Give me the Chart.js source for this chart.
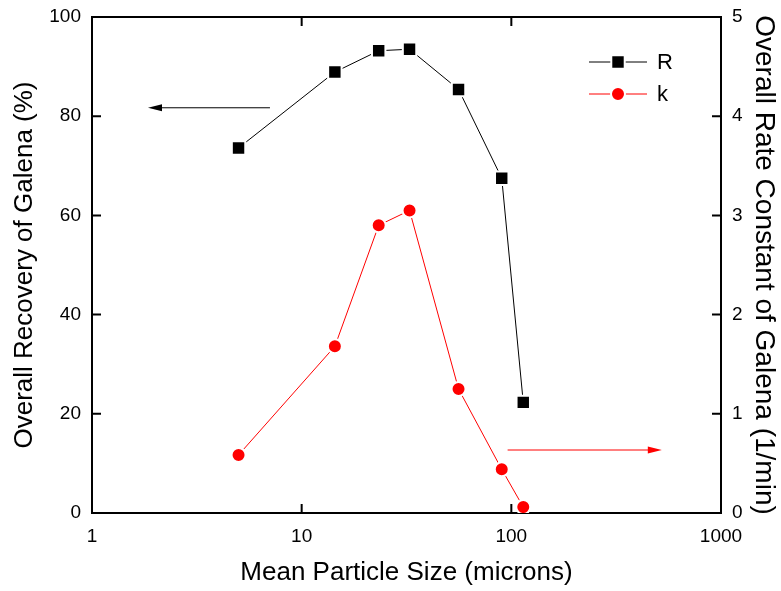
<!DOCTYPE html>
<html>
<head>
<meta charset="utf-8">
<title>Galena</title>
<script src="https://cdn.jsdelivr.net/npm/chart.js@4/dist/chart.umd.min.js"></script>
<style>
  body { margin: 0; background: #fff; }
  canvas { display: block; }
</style>
</head>
<body>
<canvas id="grafico" width="781" height="591"></canvas>
<script>
// Dados: tamanho médio da partícula, recuperação (%) e constante de taxa k (1/min)
const tamanhos = [5, 14.4, 23.3, 32.7, 56, 90, 114];
const recuperacao = [73.6, 88.9, 93.2, 93.5, 85.4, 67.5, 22.3];
const constanteK = [0.585, 1.68, 2.90, 3.05, 1.25, 0.44, 0.06];

const ticksX = [1, 10, 100, 1000];
const ticksY = [0, 20, 40, 60, 80, 100];
const ticksK = [0, 1, 2, 3, 4, 5];

// Setas que apontam para o eixo de cada série: [x inicial, x final, y]
const setaR = [7.06, 1.85, 81.7];
const setaK = [96, 522, 0.635];

const fonte = '"Liberation Sans", Arial, sans-serif';
const vermelho = '#ff0000';

function desenharSeta(ctx, x0, x1, y, cor) {
    const dir = x1 > x0 ? 1 : -1;
    ctx.strokeStyle = cor;
    ctx.fillStyle = cor;
    ctx.lineWidth = 1;
    ctx.beginPath();
    ctx.moveTo(x0, y);
    ctx.lineTo(x1 - dir * 12, y);
    ctx.stroke();
    ctx.beginPath();
    ctx.moveTo(x1, y);
    ctx.lineTo(x1 - dir * 14, y - 3.5);
    ctx.lineTo(x1 - dir * 14, y + 3.5);
    ctx.closePath();
    ctx.fill();
}

// Moldura com ticks para dentro, nos quatro lados
const molduraPlugin = {
    id: 'moldura',
    beforeDatasetsDraw(chart) {
        const { ctx, chartArea: a, scales } = chart;
        const tam = 9;
        ctx.save();
        ctx.strokeStyle = '#000';
        ctx.lineWidth = 2;
        ctx.strokeRect(a.left, a.top, a.right - a.left, a.bottom - a.top);
        ctx.beginPath();
        ticksX.forEach(v => {
            const px = scales.x.getPixelForValue(v);
            ctx.moveTo(px, a.bottom);
            ctx.lineTo(px, a.bottom - tam);
            ctx.moveTo(px, a.top);
            ctx.lineTo(px, a.top + tam);
        });
        ticksY.forEach(v => {
            const py = scales.y.getPixelForValue(v);
            ctx.moveTo(a.left, py);
            ctx.lineTo(a.left + tam, py);
        });
        ticksK.forEach(v => {
            const py = scales.yK.getPixelForValue(v);
            ctx.moveTo(a.right, py);
            ctx.lineTo(a.right - tam, py);
        });
        ctx.stroke();
        ctx.restore();
    },
    afterDatasetsDraw(chart) {
        const { ctx, chartArea: a, scales } = chart;
        ctx.save();
        desenharSeta(ctx, scales.x.getPixelForValue(setaR[0]), scales.x.getPixelForValue(setaR[1]),
            scales.y.getPixelForValue(setaR[2]), '#000');
        desenharSeta(ctx, scales.x.getPixelForValue(setaK[0]), scales.x.getPixelForValue(setaK[1]),
            scales.yK.getPixelForValue(setaK[2]), vermelho);

        // Legenda dentro da área do gráfico
        chart.data.datasets.forEach((ds, i) => {
            const y = a.top + 45 + i * 32;
            const x0 = a.right - 132;
            ctx.strokeStyle = ds.borderColor;
            ctx.lineWidth = 1;
            ctx.beginPath();
            ctx.moveTo(x0, y);
            ctx.lineTo(x0 + 58, y);
            ctx.stroke();
            ctx.fillStyle = ds.pointBackgroundColor;
            ctx.strokeStyle = '#fff';
            ctx.lineWidth = 2;
            Chart.helpers.drawPoint(ctx, {
                pointStyle: ds.pointStyle,
                radius: ds.pointRadius,
                borderWidth: 2,
                rotation: 0
            }, x0 + 29, y);
            ctx.fillStyle = '#000';
            ctx.font = '22px ' + fonte;
            ctx.textAlign = 'left';
            ctx.textBaseline = 'middle';
            ctx.fillText(ds.label, x0 + 68, y + 1);
        });
        ctx.restore();
    }
};

function fixarTicks(lista) {
    return scale => { scale.ticks = lista.map(v => ({ value: v })); };
}

// Tamanho fixo para cada eixo, sem folga extra dos rótulos
function fixarTamanho(prop, valor) {
    return scale => {
        scale[prop] = valor;
        scale.paddingTop = 0;
        scale.paddingBottom = 0;
        scale.paddingLeft = 0;
        scale.paddingRight = 0;
    };
}

const ctx = document.getElementById('grafico').getContext('2d');

new Chart(ctx, {
    type: 'line',
    data: {
        datasets: [{
            label: 'R',
            data: tamanhos.map((x, i) => ({ x: x, y: recuperacao[i] })),
            yAxisID: 'y',
            borderColor: '#000',
            borderWidth: 1,
            pointStyle: 'rect',
            pointRadius: 9.5,
            pointBackgroundColor: '#000',
            pointBorderColor: '#fff',
            pointBorderWidth: 2,
            tension: 0
        },
        {
            label: 'k',
            data: tamanhos.map((x, i) => ({ x: x, y: constanteK[i] })),
            yAxisID: 'yK',
            borderColor: vermelho,
            borderWidth: 1,
            pointStyle: 'circle',
            pointRadius: 7,
            pointBackgroundColor: vermelho,
            pointBorderColor: '#fff',
            pointBorderWidth: 2,
            tension: 0
        }]
    },
    options: {
        responsive: false,
        animation: false,
        events: [],
        layout: { autoPadding: false, padding: { top: 17, left: 0, right: 0, bottom: 0 } },
        plugins: {
            legend: { display: false },
            tooltip: { enabled: false }
        },
        scales: {
            x: {
                type: 'logarithmic',
                min: 1,
                max: 1000,
                afterBuildTicks: fixarTicks(ticksX),
                afterFit: fixarTamanho('height', 78),
                grid: { display: false, drawTicks: false },
                border: { display: false },
                ticks: {
                    color: '#000',
                    font: { family: fonte, size: 19 },
                    padding: 12,
                    maxRotation: 0,
                    autoSkip: false,
                    callback: v => String(v)
                },
                title: {
                    display: true,
                    text: 'Mean Particle Size (microns)',
                    color: '#000',
                    font: { family: fonte, size: 26 },
                    padding: { top: 0, bottom: 3 }
                }
            },
            y: {
                position: 'left',
                min: 0,
                max: 100,
                afterBuildTicks: fixarTicks(ticksY),
                afterFit: fixarTamanho('width', 92),
                grid: { display: false, drawTicks: false },
                border: { display: false },
                ticks: {
                    color: '#000',
                    font: { family: fonte, size: 19 },
                    padding: 11
                },
                title: {
                    display: true,
                    text: 'Overall Recovery of Galena (%)',
                    color: '#000',
                    font: { family: fonte, size: 26 },
                    padding: { top: 9, bottom: 0 }
                }
            },
            yK: {
                position: 'right',
                min: 0,
                max: 5,
                afterBuildTicks: fixarTicks(ticksK),
                afterFit: fixarTamanho('width', 60),
                grid: { display: false, drawTicks: false },
                border: { display: false },
                ticks: {
                    color: '#000',
                    font: { family: fonte, size: 19 },
                    padding: 11
                },
                title: {
                    display: true,
                    text: 'Overall Rate Constant of Galena (1/min)',
                    color: '#000',
                    font: { family: fonte, size: 28 },
                    padding: { top: 0, bottom: 0 }
                }
            }
        }
    },
    plugins: [molduraPlugin]
});
</script>
</body>
</html>
